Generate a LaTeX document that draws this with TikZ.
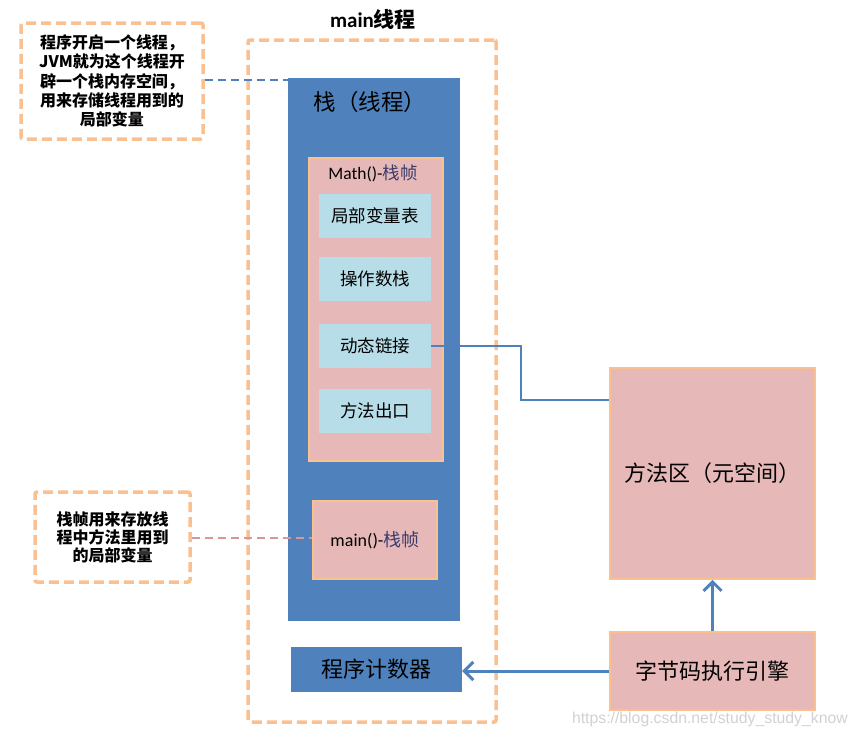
\documentclass[tikz,border=0pt]{standalone}
\usepackage{fontspec}
\setmainfont{Carlito}
\newfontfamily\cjk{Noto Sans CJK SC}
\newfontfamily\wm{Liberation Sans}
\usetikzlibrary{arrows.meta}
\definecolor{stackblue}{HTML}{4F81BD}
\definecolor{framepink}{HTML}{E6B9B8}
\definecolor{edgeorange}{HTML}{FAC090}
\definecolor{slotblue}{HTML}{B7DDE8}
\definecolor{notepink}{HTML}{D99694}
\tikzset{
  notebox/.style={draw=edgeorange, line width=3.5pt, dash pattern=on 10pt off 5pt, rounded corners=2pt, align=center, inner sep=0pt},
  bluearea/.style={fill=stackblue, draw=none, inner sep=0pt},
  pinkframe/.style={fill=framepink, draw=edgeorange, line width=1.5pt, inner sep=0pt},
  slot/.style={fill=slotblue, draw=none, inner sep=0pt, font=\cjk\fontsize{17.5}{19}\selectfont},
  link/.style={draw=stackblue, line width=2pt},
  flow/.style={draw=stackblue, line width=3pt, -{Straight Barb[length=9pt,width=18pt,line width=3pt]}},
}
\begin{document}
\begin{tikzpicture}[x=1pt,y=-1pt]
\useasboundingbox (0,0) rectangle (857,737);

% main thread boundary and title
\node[notebox, minimum width=248pt, minimum height=682pt] (mainbox) at (372,381) {};
\node[font=\bfseries\fontsize{21}{23}\selectfont] (title) at (373,19) {main{\cjk\bfseries 线程}};

% thread stack
\node[bluearea, minimum width=172pt, minimum height=543pt] (stack) at (374,349.5) {};
\node[font=\cjk\fontsize{22.5}{24}\selectfont] (stacktitle) at (370,102) {栈（线程）};

% Math() frame with its four slots
\node[pinkframe, minimum width=134pt, minimum height=303pt] (mathframe) at (376,309.5) {};
\node[font=\fontsize{17.5}{19}\selectfont] (mathlabel) at (373,173) {Math()-{\cjk\color[HTML]{3B3B6B}栈帧}};
\node[slot, minimum width=112pt, minimum height=44pt] (lv) at (375,216) {局部变量表};
\node[slot, minimum width=112pt, minimum height=44pt] (ops) at (375,279) {操作数栈};
\node[slot, minimum width=112pt, minimum height=44pt] (dyn) at (375,346) {动态链接};
\node[slot, minimum width=112pt, minimum height=44pt] (ret) at (375,411) {方法出口};

% main() frame
\node[pinkframe, minimum width=124pt, minimum height=78pt, font=\fontsize{18}{20}\selectfont] (mainframe) at (375,540) {main()-{\cjk\color[HTML]{3B3B6B}栈帧}};

% program counter
\node[bluearea, minimum width=171pt, minimum height=45pt, font=\cjk\fontsize{22}{24}\selectfont] (pc) at (376.5,669.5) {程序计数器};

% method area and execution engine
\node[pinkframe, minimum width=205pt, minimum height=211pt, font=\cjk\fontsize{22}{24}\selectfont] (ma) at (712.5,473.5) {方法区（元空间）};
\node[pinkframe, minimum width=205pt, minimum height=78pt, font=\cjk\fontsize{22}{24}\selectfont] (eng) at (712.5,671) {字节码执行引擎};

% notes
\node[notebox, minimum width=182pt, minimum height=116pt, font=\cjk\bfseries\fontsize{16}{19.3}\selectfont] (note1) at (112,81)
  {程序开启一个线程，\\JVM就为这个线程开\\辟一个栈内存空间，\\用来存储线程用到的\\局部变量};
\node[notebox, minimum width=155pt, minimum height=90pt, font=\cjk\bfseries\fontsize{16}{18}\selectfont] (note2) at (112.5,537)
  {栈帧用来存放线\\程中方法里用到\\的局部变量};

% note leaders
\draw[stackblue, line width=2pt, dash pattern=on 8pt off 5pt] (note1.east |- 0,80) -- (stack.west |- 0,80);
\draw[notepink, line width=2pt, dash pattern=on 8pt off 5pt] (note2.east |- 0,538) -- (mainframe.west |- 0,538);

% connectors
\coordinate (bend1) at (521,346);
\coordinate (bend2) at (521,400);
\draw[link] (dyn.east) -- (bend1) -- (bend2) -- (ma.west |- bend2);
\draw[flow] (eng.north) -- (ma.south);
\draw[flow] (eng.west) -- (pc.east |- eng.west);

% watermark
\node[text=black!18, font=\wm\fontsize{15.8}{17}\selectfont, anchor=east, inner sep=0pt] (mark) at (848,719) {https://blog.csdn.net/study\_study\_know};
\end{tikzpicture}
\end{document}
